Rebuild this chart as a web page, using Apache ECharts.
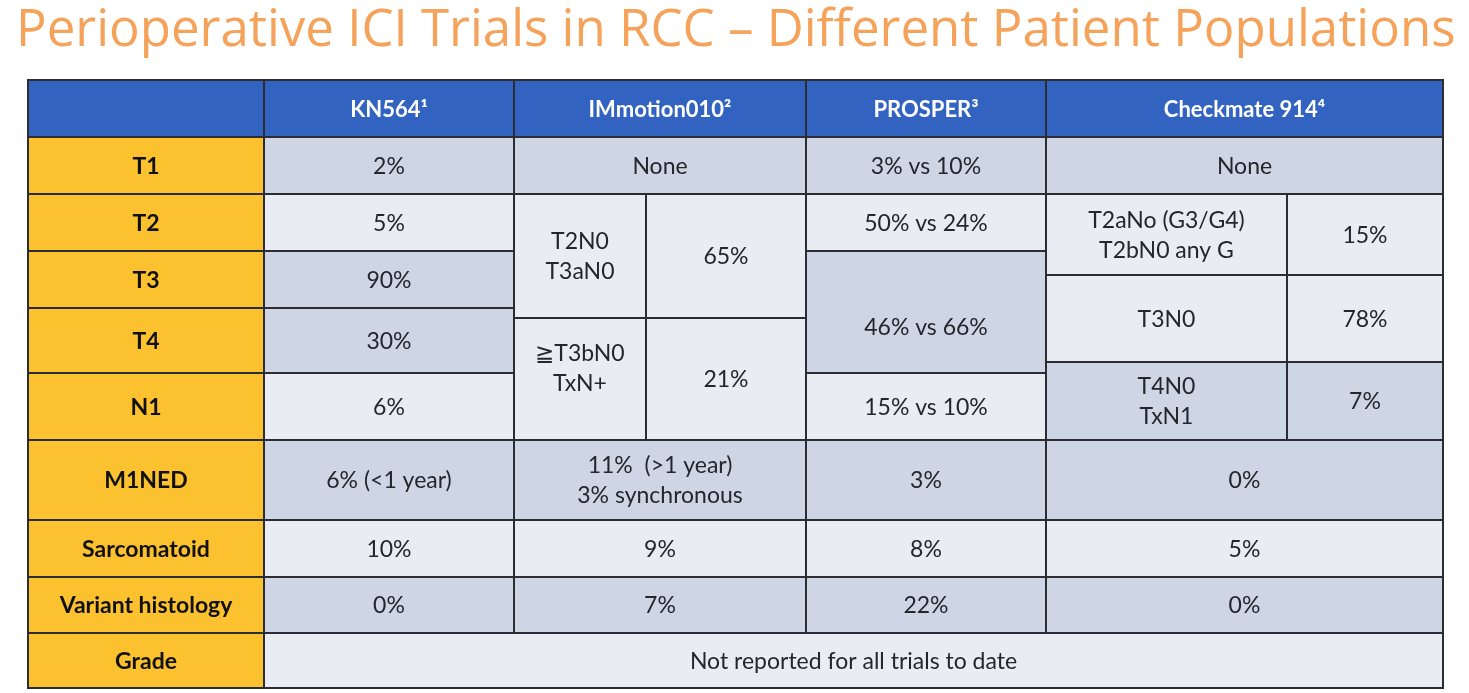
<!DOCTYPE html>
<html><head><meta charset="utf-8">
<script src="https://cdn.jsdelivr.net/npm/echarts@6/dist/echarts.min.js"></script>
<style>html,body{margin:0;padding:0;background:#fff;}#c{width:1469px;height:693px;}</style>
</head><body><div id="c"></div>
<script>
const title = 'Perioperative ICI Trials in RCC \u2013 Different Patient Populations';
const trials = ['KN564\u00b9', 'IMmotion010\u00b2', 'PROSPER\u00b3', 'Checkmate 914\u2074'];
const rowNames = ['T1', 'T2', 'T3', 'T4', 'N1', 'M1NED', 'Sarcomatoid', 'Variant histology', 'Grade'];
// table column / row boundary lines (table units)
const colEdges = [0, 236, 486, 618, 778, 1018, 1259, 1415];
const rowEdges = [0, 57, 114, 171, 195, 228, 238, 282, 293, 360, 440, 497, 553, 608];
// header cells: [colStart, colEnd]
const headerSpans = [[0, 1], [1, 2], [2, 4], [4, 5], [5, 7]];
const headerTexts = [''].concat(trials);
// row label spans: [rowStart, rowEnd]
const rowSpans = [[1, 2], [2, 3], [3, 5], [5, 8], [8, 9], [9, 10], [10, 11], [11, 12], [12, 13]];
// cells: [colStart, colEnd, rowStart, rowEnd, text, shade]
const kn564 = [
  [1, 2, 1, 2, '2%', 'dark'], [1, 2, 2, 3, '5%', 'light'], [1, 2, 3, 5, '90%', 'dark'],
  [1, 2, 5, 8, '30%', 'dark'], [1, 2, 8, 9, '6%', 'light'], [1, 2, 9, 10, '6% (<1 year)', 'dark'],
  [1, 2, 10, 11, '10%', 'light'], [1, 2, 11, 12, '0%', 'dark']
];
const immotion = [
  [2, 4, 1, 2, 'None', 'dark'], [2, 3, 2, 6, 'T2N0\nT3aN0', 'light'], [3, 4, 2, 6, '65%', 'light'],
  [2, 3, 6, 9, '\u2267T3bN0\nTxN+', 'light'], [3, 4, 6, 9, '21%', 'light'],
  [2, 4, 9, 10, '11%  (>1 year)\n3% synchronous', 'dark'], [2, 4, 10, 11, '9%', 'light'], [2, 4, 11, 12, '7%', 'dark']
];
const prosper = [
  [4, 5, 1, 2, '3% vs 10%', 'dark'], [4, 5, 2, 3, '50% vs 24%', 'light'], [4, 5, 3, 8, '46% vs 66%', 'dark'],
  [4, 5, 8, 9, '15% vs 10%', 'light'], [4, 5, 9, 10, '3%', 'dark'], [4, 5, 10, 11, '8%', 'light'], [4, 5, 11, 12, '22%', 'dark']
];
const checkmate = [
  [5, 7, 1, 2, 'None', 'dark'], [5, 6, 2, 4, 'T2aNo (G3/G4)\nT2bN0 any G', 'light'], [6, 7, 2, 4, '15%', 'light'],
  [5, 6, 4, 7, 'T3N0', 'light'], [6, 7, 4, 7, '78%', 'light'], [5, 6, 7, 9, 'T4N0\nTxN1', 'dark'], [6, 7, 7, 9, '7%', 'dark'],
  [5, 7, 9, 10, '0%', 'dark'], [5, 7, 10, 11, '5%', 'light'], [5, 7, 11, 12, '0%', 'dark']
];
const gradeRow = [[1, 7, 12, 13, 'Not reported for all trials to date', 'light']];

// layout tweaks (text vertical nudges in pixels), kept apart from data
const textNudge = {'46% vs 66%': 15, '\u2267T3bN0\nTxN+': -11};

const cells = [];
headerSpans.forEach((s, i) => cells.push([s[0], s[1], 0, 1, headerTexts[i], 'head']));
rowSpans.forEach((s, i) => cells.push([0, 1, s[0], s[1], rowNames[i], 'row']));
[kn564, immotion, prosper, checkmate, gradeRow].forEach(a => a.forEach(c => cells.push(c)));

const styles = {
  head: {fill: '#3263c1', color: '#ffffff', font: 'bold 22px Lato'},
  row: {fill: '#fbc12f', color: '#111111', font: 'bold 23px Lato'},
  dark: {fill: '#ced5e5', color: '#23262d', font: '23px Lato'},
  light: {fill: '#e9ecf3', color: '#23262d', font: '23px Lato'}
};

const chart = echarts.init(document.getElementById('c'));
chart.setOption({
  animation: false,
  backgroundColor: '#ffffff',
  title: {text: title, left: 11, top: 1,
    textStyle: {fontFamily: 'Open Sans', fontWeight: 'normal', fontSize: 51, color: '#f5a25b'}},
  grid: {left: 28, top: 80, width: 1415, height: 608},
  xAxis: {type: 'value', min: 0, max: colEdges[colEdges.length - 1], show: false},
  yAxis: {type: 'value', min: 0, max: rowEdges[rowEdges.length - 1], inverse: true, show: false},
  series: [{
    type: 'custom',
    coordinateSystem: 'cartesian2d',
    data: cells.map(c => [colEdges[c[0]], colEdges[c[1]], rowEdges[c[2]], rowEdges[c[3]]]),
    renderItem: function (params, api) {
      const c = cells[params.dataIndex];
      const p0 = api.coord([api.value(0), api.value(2)]);
      const p1 = api.coord([api.value(1), api.value(3)]);
      const st = styles[c[5]];
      const dy = (textNudge[c[4]] || 0) + 1;
      return {
        type: 'group',
        children: [
          {type: 'rect', shape: {x: p0[0], y: p0[1], width: p1[0] - p0[0], height: p1[1] - p0[1]},
            style: {fill: st.fill, stroke: '#2b2d33', lineWidth: 2}},
          {type: 'text', z2: 10, style: {x: (p0[0] + p1[0]) / 2, y: (p0[1] + p1[1]) / 2 + dy, text: c[4],
            fill: st.color, font: st.font, align: 'center', verticalAlign: 'middle', lineHeight: 30}}
        ]
      };
    }
  }]
});
</script></body></html>
